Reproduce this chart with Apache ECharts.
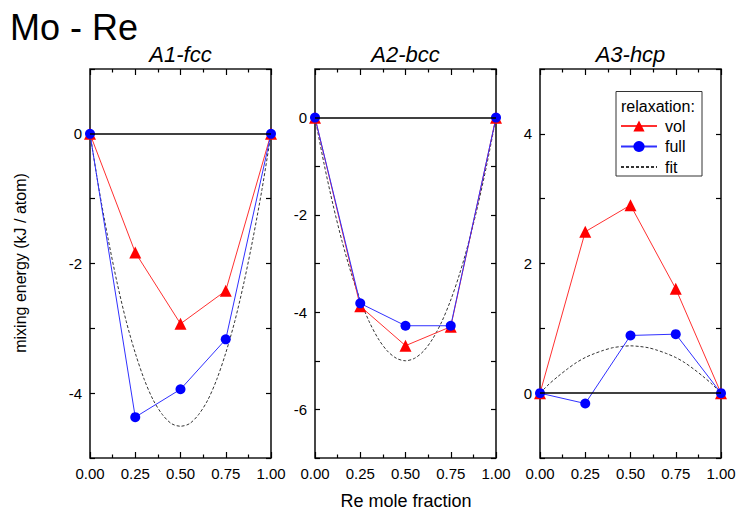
<!DOCTYPE html>
<html>
<head>
<meta charset="utf-8">
<script src="https://cdn.jsdelivr.net/npm/echarts@6/dist/echarts.min.js"></script>
<style>
html,body{margin:0;padding:0;background:#fff;}
#chart{width:740px;height:515px;}
</style>
</head>
<body>
<div id="chart"></div>
<script>
// ---- data ----
const compX = [0, 0.25, 0.5, 0.75, 1];
const fitX = [0,0.05,0.1,0.15,0.2,0.25,0.3,0.35,0.4,0.45,0.5,0.55,0.6,0.65,0.7,0.75,0.8,0.85,0.9,0.95,1];

const fccVol  = [0, -1.83, -2.93, -2.42, 0];
const fccFull = [0, -4.37, -3.94, -3.17, 0];
const fccFit  = [0,-0.86,-1.62,-2.30,-2.89,-3.38,-3.79,-4.11,-4.33,-4.47,-4.51,-4.47,-4.33,-4.11,-3.79,-3.38,-2.89,-2.30,-1.62,-0.86,0];

const bccVol  = [0, -3.88, -4.69, -4.30, 0];
const bccFull = [0, -3.82, -4.28, -4.28, 0];
const bccFit  = [0,-0.95,-1.80,-2.55,-3.20,-3.75,-4.20,-4.55,-4.80,-4.95,-5.00,-4.95,-4.80,-4.55,-4.20,-3.75,-3.20,-2.55,-1.80,-0.95,0];

const hcpVol  = [0, 2.49, 2.90, 1.61, 0];
const hcpFull = [0, -0.16, 0.89, 0.91, 0];
const hcpFit  = [0,0.14,0.26,0.37,0.47,0.55,0.61,0.66,0.70,0.72,0.73,0.72,0.70,0.66,0.61,0.55,0.47,0.37,0.26,0.14,0];

const panelTitles = ['A1-fcc', 'A2-bcc', 'A3-hcp'];
const yRanges = [[-5, 1], [-7, 1], [-1, 5]];
const xTickLabels = ['0.00', '0.25', '0.50', '0.75', '1.00'];
const legendNames = ['vol', 'full', 'fit'];

// ---- layout ----
const FONT = 'Liberation Sans, Arial, sans-serif';
const gridLefts = [90, 315, 540];
const gridW = 181, gridTop = 69, gridH = 389;

const panels = [
  {vol: fccVol, full: fccFull, fit: fccFit},
  {vol: bccVol, full: bccFull, fit: bccFit},
  {vol: hcpVol, full: hcpFull, fit: hcpFit}
];

const pair = (xs, ys) => xs.map((x, i) => [x, ys[i]]);
const tickStyle = {color: '#000', width: 1.2};

const grids = [], xAxes = [], yAxes = [], series = [], graphics = [];

panels.forEach((p, i) => {
  grids.push({left: gridLefts[i], top: gridTop, width: gridW, height: gridH,
    show: true, borderColor: '#1a1a1a', borderWidth: 1.6, backgroundColor: 'transparent'});
  const xBase = {gridIndex: i, type: 'value', min: 0, max: 1, interval: 0.25,
    axisLine: {show: false, onZero: false}, splitLine: {show: false},
    axisTick: {inside: true, length: 6, lineStyle: tickStyle},
    minorTick: {show: true, splitNumber: 2, length: 3.5, lineStyle: tickStyle},
    minorSplitLine: {show: false}};
  xAxes.push(Object.assign({}, xBase, {position: 'bottom',
    axisLabel: {margin: 8, fontSize: 15, color: '#000', fontFamily: FONT,
      formatter: v => xTickLabels[Math.round(v / 0.25)]}}));
  xAxes.push(Object.assign({}, xBase, {position: 'top', axisLabel: {show: false}}));
  const yBase = {gridIndex: i, type: 'value', min: yRanges[i][0], max: yRanges[i][1], interval: 1,
    axisLine: {show: false, onZero: false}, splitLine: {show: false},
    axisTick: {inside: true, length: 5, lineStyle: tickStyle}};
  yAxes.push(Object.assign({}, yBase, {position: 'left',
    axisLabel: {margin: 8, fontSize: 15, color: '#000', fontFamily: FONT,
      formatter: v => (Math.round(v) % 2 === 0 ? String(Math.round(v)) : '')}}));
  yAxes.push(Object.assign({}, yBase, {position: 'right', axisLabel: {show: false}}));

  series.push({name: 'fit', type: 'line', xAxisIndex: 2 * i, yAxisIndex: 2 * i,
    data: pair(fitX, p.fit), smooth: 0.3, symbol: 'none',
    itemStyle: {color: '#333'},
    lineStyle: {color: '#333', width: 1, type: [3, 2]},
    markLine: {silent: true, symbol: ['none', 'none'], label: {show: false},
      lineStyle: {color: '#000', width: 1.6, type: 'solid'},
      data: [{yAxis: 0}]}});
  series.push({name: 'vol', type: 'line', xAxisIndex: 2 * i, yAxisIndex: 2 * i,
    data: pair(compX, p.vol), symbol: 'triangle', symbolSize: 12,
    itemStyle: {color: '#ff0000'}, lineStyle: {color: '#ff3030', width: 1}});
  series.push({name: 'full', type: 'line', xAxisIndex: 2 * i, yAxisIndex: 2 * i,
    data: pair(compX, p.full), symbol: 'circle', symbolSize: 10,
    itemStyle: {color: '#0000ff'}, lineStyle: {color: '#3030ff', width: 1}});

  graphics.push({type: 'text', x: gridLefts[i] + gridW / 2, y: 54, z: 10,
    style: {text: panelTitles[i], textAlign: 'center', textVerticalAlign: 'middle',
      font: 'italic 22px ' + FONT, fill: '#000'}});
});

graphics.push({type: 'text', x: 10, y: 27, z: 10,
  style: {text: 'Mo - Re', textAlign: 'left', textVerticalAlign: 'middle',
    font: '36px ' + FONT, fill: '#000'}});
graphics.push({type: 'text', x: 406, y: 501, z: 10,
  style: {text: 'Re mole fraction', textAlign: 'center', textVerticalAlign: 'middle',
    font: '18px ' + FONT, fill: '#000'}});
graphics.push({type: 'text', x: 20, y: 263, z: 10, rotation: Math.PI / 2,
  style: {text: 'mixing energy (kJ / atom)', textAlign: 'center', textVerticalAlign: 'middle',
    font: '16px ' + FONT, fill: '#000'}});
graphics.push({type: 'rect', z: 5,
  shape: {x: 616, y: 91.5, width: 86, height: 84.5},
  style: {fill: '#fff', stroke: '#333', lineWidth: 1}});
graphics.push({type: 'text', x: 621, y: 106, z: 6,
  style: {text: 'relaxation:', textAlign: 'left', textVerticalAlign: 'middle',
    font: '16px ' + FONT, fill: '#000'}});

const chart = echarts.init(document.getElementById('chart'), null, {renderer: 'svg'});
chart.setOption({
  animation: false,
  backgroundColor: '#fff',
  grid: grids,
  xAxis: xAxes,
  yAxis: yAxes,
  series: series,
  graphic: graphics,
  legend: {
    data: ['vol', 'full', {name: 'fit', itemStyle: {color: 'rgba(0,0,0,0)', borderWidth: 0, opacity: 0}}],
    orient: 'vertical', left: 620, top: 118, z: 20,
    padding: 0, itemWidth: 36, itemHeight: 14, itemGap: 4.5, selectedMode: false,
    textStyle: {fontSize: 16, color: '#000', fontFamily: FONT, lineHeight: 16, padding: [0, 0, 0, 3]}
  }
});
</script>
</body>
</html>
